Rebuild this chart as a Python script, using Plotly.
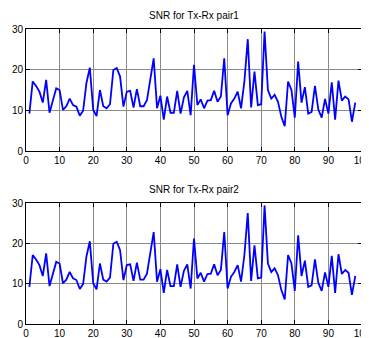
import plotly.graph_objects as go

x_vals = list(range(1, 99))
snr_pair1 = [9.2, 17.1, 16.0, 14.6, 11.9, 17.5, 9.4, 12.5, 15.4, 15.0,
             10.1, 11.0, 12.9, 11.3, 10.9, 8.7, 9.9, 16.8, 20.5, 10.1,
             8.6, 15.0, 11.0, 10.5, 11.5, 19.9, 20.4, 18.3, 10.9, 14.6,
             14.8, 10.7, 15.2, 11.0, 11.0, 12.5, 17.5, 22.8, 10.5, 13.6,
             7.7, 13.4, 9.4, 9.4, 14.8, 9.2, 13.2, 14.8, 8.8, 21.2,
             11.3, 12.7, 10.5, 12.4, 12.5, 14.8, 12.1, 13.4, 22.8, 8.8,
             11.7, 12.9, 14.6, 10.5, 17.1, 27.5, 10.7, 19.5, 11.3, 11.5,
             29.4, 15.0, 12.9, 13.8, 12.1, 8.4, 6.1, 17.1, 15.0, 8.2,
             22.0, 11.9, 15.7, 9.2, 9.6, 16.0, 10.2, 8.2, 12.8, 9.2,
             16.9, 7.7, 17.3, 12.4, 13.4, 12.7, 7.2, 11.9]
snr_pair2 = list(snr_pair1)
titles = ["SNR for Tx-Rx pair1", "SNR for Tx-Rx pair2"]
x_ticks = list(range(0, 101, 10))
y_ticks = [0, 10, 20, 30]

# page body has an 8px margin; work in screen coords and shift
OFF = 8
W, H = 369 - OFF, 338 - OFF
fig = go.Figure()
fam = "Liberation Sans, Arial, sans-serif"
font = dict(family=fam, size=10, color="black")

left, right = 26 - OFF, 362 - OFF
boxes = [(29 - OFF, 151 - OFF), (203 - OFF, 324 - OFF)]
layout_axes = {}
for i, (series, (top, bot)) in enumerate(zip([snr_pair1, snr_pair2], boxes)):
    n = "" if i == 0 else str(i + 1)
    fig.add_trace(go.Scatter(x=x_vals, y=series, mode="lines",
                             line=dict(color="#0000FF", width=1.8),
                             xaxis="x" + n, yaxis="y" + n, showlegend=False))
    common = dict(showgrid=True, gridcolor="#8a8a8a", gridwidth=1,
                  showline=True, linecolor="black", linewidth=1,
                  mirror="allticks", ticks="inside", ticklen=4,
                  tickcolor="black", zeroline=False, tickfont=font,
                  automargin=False, ticklabeloverflow="allow")
    layout_axes["xaxis" + n] = dict(range=[0, 100], autorange=False,
                                    tickvals=x_ticks,
                                    domain=[left / W, right / W],
                                    anchor="y" + n, **common)
    layout_axes["yaxis" + n] = dict(range=[0, 30], autorange=False,
                                    tickvals=y_ticks,
                                    domain=[(H - bot) / H, (H - top) / H],
                                    anchor="x" + n, **common)
    fig.add_annotation(text=titles[i], x=(194 - OFF) / W, y=(H - top + 6) / H,
                       xref="paper", yref="paper", showarrow=False,
                       xanchor="center", yanchor="bottom",
                       font=dict(family=fam, size=10, color="black"))

fig.update_layout(width=W, height=H, margin=dict(l=0, r=0, t=0, b=0),
                  paper_bgcolor="white", plot_bgcolor="white", **layout_axes)
fig.write_html("out.html")
